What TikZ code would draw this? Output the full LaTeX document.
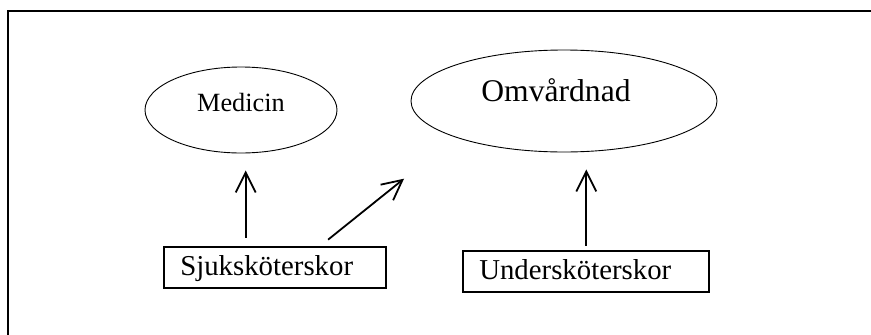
\documentclass[tikz,border=0pt]{standalone}
\usepackage{fontspec}
\setmainfont{Liberation Serif}
\usepackage{tikz}
\usetikzlibrary{shapes.geometric,arrows.meta}

\begin{document}
\begin{tikzpicture}[x=1pt,y=-1pt,
        oval/.style={draw,ellipse,line width=0.9pt,inner sep=0pt},
        staff/.style={draw,rectangle,line width=1.8pt,inner xsep=16pt,inner ysep=4pt,align=left,
            text height=24.5pt,text depth=8.5pt,font=\fontsize{28.8}{32}\selectfont},
        arr/.style={-{Straight Barb[length=20pt,width=20pt]},line width=1.8pt}]
        \useasboundingbox (0,0) rectangle (871,335);
        % frame (cut off at right and bottom)
        \draw[line width=2.2pt] (7.7,335) -- (7.7,11) -- (871,11);
        \node[oval,minimum width=192pt,minimum height=86pt,text height=18pt,text depth=16pt,
            font=\fontsize{26.3}{30}\selectfont] (med) at (241,110) {Medicin};
        \node[oval,minimum width=306pt,minimum height=102pt,text height=20pt,text depth=18.6pt,
            font=\fontsize{31.6}{36}\selectfont] (omv) at (564,101) {Omvårdnad\hspace*{16pt}};
        \node[staff,text width=190pt] (sjuk) at (275.3,267.3) {Sjuksköterskor};
        \node[staff,text width=214pt] (unds) at (586.3,271.3) {Undersköterskor};
        \draw[arr,shorten <=8pt,shorten >=17pt] ([xshift=-29.6pt]sjuk.north) -- ([xshift=4.7pt]med.south);
        \draw[arr,shorten <=10pt,shorten >=66pt] ([xshift=45pt]sjuk.north) -- (omv.south west);
        \draw[arr,shorten <=4pt,shorten >=17pt] (unds.north) -- (unds.north |- omv.south);
    \end{tikzpicture}
\end{document}
